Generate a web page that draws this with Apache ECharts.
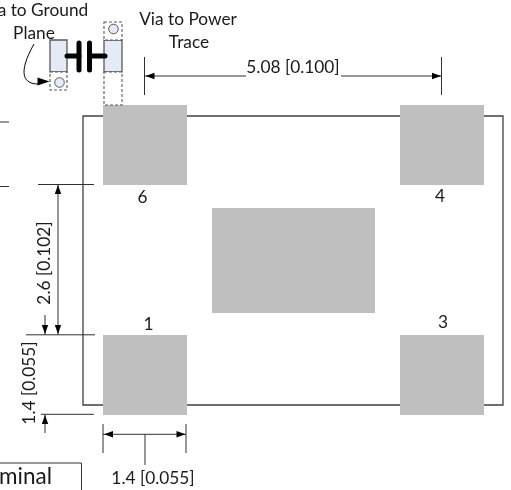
<!DOCTYPE html>
<html><head><meta charset="utf-8">
<style>html,body{margin:0;padding:0;background:#fff}#c{width:511px;height:490px}</style>
<script src="https://cdn.jsdelivr.net/npm/echarts@6/dist/echarts.min.js"></script>
</head><body><div id="c"></div>
<script>
// Drawing values, in the units of the chart's two value axes: [x0, y0, x1, y1]
const pads = [[103,105,187,185],[400,105,484,185],[103,335,187,415],[400,335,484,415],[212,208,375,313]];
const board = [[83,116,503,405]];
const capBodies = [[50,40,67,72],[104,40,122,72]];
const dashedBoxes = [[50,72,67,90],[104,22,122,40],[104,72,122,105]];
const vias = [[59.5,82.5],[113.5,29]];
const capLeads = [[67,56,79,56],[79,43,79,70],[89.5,43,89.5,70],[89.5,56,105,56]];
const darkLines = [
  [0,122,9,122],[0,186.5,9,186.5],
  [38,184.5,94,184.5],[26,334.8,95,334.8],[41,414.3,94,414.3],
  [58,184.5,58,334.8],[45,315,45,334.8],[45,414.3,45,433],
  [103,424,103,453],[186,424,186,453],[103,434.3,186,434.3],[145,434.3,145,465],
  [144.5,57,144.5,95],[441.5,57,441.5,95],[145,76,246,76],[341,76,441,76],
  [0,463,81.5,463],[81.5,463,81.5,490]
];
const arrowTips = [ // x, y, direction
  [58,185,'up'],[58,334,'down'],[45,334,'down'],[45,415,'up'],
  [104,434.3,'left'],[185.5,434.3,'right'],[145.5,76,'left'],[441,76,'right'],[49.5,81.5,'right']
];
const leader = [[34,44,17,74,24,84,38,84]];
const labels = [
  ['Via to Ground',35,10,0],['Plane',34,33,0],['Via to Power',188,19,0],['Trace',189,42,0],
  ['5.08 [0.100]',293,67,0],['6',142.5,197,0],['4',440,196,0],['1',148.5,324,0],['3',443,322,0],
  ['2.6 [0.102]',44.5,263,90],['1.4 [0.055]',29,383,90],['1.4 [0.055]',153,478,0],['minal',25.5,477,0]
];

const rectSeries = (data, style, z) => ({
  type:'custom', coordinateSystem:'cartesian2d', data, z, silent:true, clip:false,
  encode:{x:[0,2],y:[1,3]},
  renderItem:(p,api)=>{
    const a=api.coord([api.value(0),api.value(1)]), b=api.coord([api.value(2),api.value(3)]);
    return {type:'rect',shape:{x:a[0],y:a[1],width:b[0]-a[0],height:b[1]-a[1]},style};
  }
});
const lineSeries = (data, style, z) => ({
  type:'custom', coordinateSystem:'cartesian2d', data, z, silent:true, clip:false,
  encode:{x:[0,2],y:[1,3]},
  renderItem:(p,api)=>{
    const a=api.coord([api.value(0),api.value(1)]), b=api.coord([api.value(2),api.value(3)]);
    return {type:'line',shape:{x1:a[0],y1:a[1],x2:b[0],y2:b[1]},style};
  }
});
const dirs={up:[0,1],down:[0,-1],left:[1,0],right:[-1,0]};

const option = {
  animation:false,
  backgroundColor:'#fff',
  grid:{left:0,right:0,top:0,bottom:0},
  xAxis:{type:'value',min:0,max:511,show:false},
  yAxis:{type:'value',min:0,max:490,inverse:true,show:false},
  series:[
    rectSeries(board,{fill:'none',stroke:'#404040',lineWidth:1.3},1),
    rectSeries(pads,{fill:'#BFBFBF'},3),
    rectSeries(capBodies,{fill:'#E4EAF6',stroke:'#595959',lineWidth:1.3},4),
    rectSeries(dashedBoxes,{fill:'#fff',stroke:'#595959',lineWidth:1.1,lineDash:[3,2]},4),
    lineSeries(darkLines,{stroke:'#303030',lineWidth:1},2),
    lineSeries(capLeads,{stroke:'#000',lineWidth:5,lineCap:'round'},6),
    {type:'custom',coordinateSystem:'cartesian2d',data:vias,z:5,silent:true,clip:false,
      encode:{x:0,y:1},
      renderItem:(p,api)=>{const c=api.coord([api.value(0),api.value(1)]);
        return {type:'circle',shape:{cx:c[0],cy:c[1],r:4.8},style:{fill:'#E4EAF6',stroke:'#595959',lineWidth:1}};}},
    {type:'custom',coordinateSystem:'cartesian2d',data:arrowTips,z:7,silent:true,clip:false,
      encode:{x:0,y:1},
      renderItem:(p,i)=>{
        const t=arrowTips[p.dataIndex], c=i.coord([t[0],t[1]]), d=dirs[t[2]];
        const len=t[0]===49.5?12:9, hw=t[0]===49.5?4:3.2;
        const bx=c[0]+d[0]*len, by=c[1]+d[1]*len;
        return {type:'polygon',shape:{points:[c,[bx-d[1]*hw,by-d[0]*hw],[bx+d[1]*hw,by+d[0]*hw]]},style:{fill:'#000'}};
      }},
    {type:'custom',coordinateSystem:'cartesian2d',data:leader,z:6,silent:true,clip:false,
      encode:{x:[0,6],y:[1,7]},
      renderItem:(p,api)=>{
        const v=[0,1,2,3,4,5,6,7].map(k=>api.value(k));
        const a=api.coord([v[0],v[1]]),c1=api.coord([v[2],v[3]]),c2=api.coord([v[4],v[5]]),b=api.coord([v[6],v[7]]);
        return {type:'bezierCurve',shape:{x1:a[0],y1:a[1],cpx1:c1[0],cpy1:c1[1],cpx2:c2[0],cpy2:c2[1],x2:b[0],y2:b[1]},
          style:{fill:'none',stroke:'#000',lineWidth:1}};
      }},
    {type:'custom',coordinateSystem:'cartesian2d',data:labels.map(l=>[l[1],l[2]]),z:10,silent:true,clip:false,
      encode:{x:0,y:1},
      renderItem:(p,api)=>{
        const l=labels[p.dataIndex], c=api.coord([api.value(0),api.value(1)]);
        return {type:'text',x:c[0],y:c[1],rotation:l[3]*Math.PI/180,
          style:{text:l[0],x:0,y:0,align:'center',verticalAlign:'middle',fill:'#1a1a1a',
            font:(l[0]==='minal'?'22.5px':'17.3px')+' Lato, "Open Sans", sans-serif'}};
      }}
  ]
};
const chart = echarts.init(document.getElementById('c'),null,{renderer:'canvas'});
chart.setOption(option);
</script></body></html>
